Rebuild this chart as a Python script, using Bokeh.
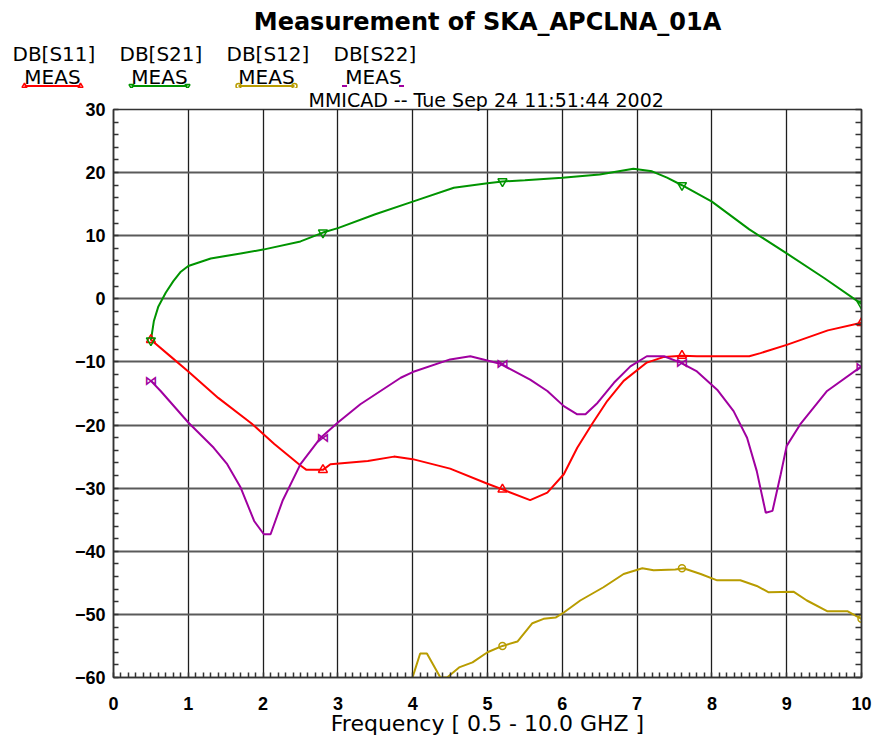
import numpy as np
from bokeh.plotting import figure
from bokeh.models import (Range1d, LinearAxis, Title, SingleIntervalTicker,
                          CustomJSTickFormatter)
from bokeh.layouts import column
from bokeh.embed import file_html
from bokeh.resources import INLINE
from bokeh.core.properties import value

# ---------------- data ----------------
title_text = "Measurement of SKA_APCLNA_01A"
date_text = "MMICAD -- Tue Sep 24 11:51:44 2002"
x_label = "Frequency [ 0.5 - 10.0 GHZ ]"
series_names = ["DB[S11]", "DB[S21]", "DB[S12]", "DB[S22]"]
series_sub = "MEAS"

freq_s11 = [0.5, 0.75, 1.0, 1.4, 1.85, 2.15, 2.5, 2.58, 2.8, 2.9, 3.4, 3.75, 4.0, 4.5, 5.0,
            5.2, 5.57, 5.8, 6.02, 6.2, 6.4, 6.6, 6.82, 7.13, 7.36, 7.6, 7.8, 8.5, 8.65, 9.0,
            9.55, 10.0]
s11 = [-6.5, -9.0, -11.5, -15.7, -19.8, -23.0, -26.4, -27.1, -27.1, -26.2, -25.7, -25.0, -25.4,
       -26.9, -29.3, -30.2, -31.9, -30.7, -27.8, -23.6, -19.8, -16.2, -13.0, -10.1, -9.2, -9.0,
       -9.1, -9.1, -8.6, -7.3, -5.0, -3.8]

freq_s21 = [0.5, 0.54, 0.6, 0.7, 0.8, 0.9, 1.0, 1.3, 1.7, 2.0, 2.5, 2.8, 3.0, 3.5, 4.0, 4.55,
            5.0, 5.2, 5.5, 6.0, 6.5, 6.95, 7.2, 7.4, 7.6, 8.0, 8.5, 9.0, 9.5, 10.0]
s21 = [-6.6, -3.5, -1.2, 1.0, 2.8, 4.3, 5.2, 6.4, 7.2, 7.8, 9.1, 10.5, 11.2, 13.4, 15.4, 17.6,
       18.3, 18.6, 18.8, 19.2, 19.7, 20.6, 20.2, 19.2, 18.0, 15.4, 11.0, 7.2, 3.3, -0.8]

freq_s12 = [3.95, 4.0, 4.1, 4.19, 4.37, 4.46, 4.62, 4.8, 5.0, 5.2, 5.4, 5.6, 5.75, 5.91, 6.02,
            6.24, 6.55, 6.82, 7.07, 7.22, 7.51, 7.62, 7.85, 8.07, 8.38, 8.6, 8.76, 9.09, 9.27,
            9.54, 9.81, 10.0]
s12 = [-61.0, -59.9, -56.2, -56.2, -60.0, -60.0, -58.4, -57.6, -56.0, -55.0, -54.3, -51.4, -50.7,
       -50.5, -49.7, -47.8, -45.7, -43.6, -42.7, -43.0, -42.9, -42.7, -43.6, -44.6, -44.6, -45.5,
       -46.5, -46.4, -47.8, -49.5, -49.5, -50.7]

freq_s22 = [0.5, 0.63, 1.0, 1.34, 1.52, 1.7, 1.88, 2.01, 2.1, 2.26, 2.5, 2.77, 3.0, 3.3, 3.84,
            4.0, 4.5, 4.77, 5.17, 5.57, 5.8, 6.02, 6.2, 6.31, 6.47, 6.69, 6.91, 7.13, 7.36, 7.58,
            7.8, 8.07, 8.29, 8.47, 8.6, 8.72, 8.81, 8.92, 9.0, 9.18, 9.54, 10.0]
s22 = [-13.0, -14.6, -19.6, -23.6, -26.2, -29.9, -35.2, -37.3, -37.3, -32.0, -26.2, -22.0, -19.6,
       -16.7, -12.5, -11.6, -9.6, -9.1, -10.3, -12.8, -14.6, -17.0, -18.3, -18.3, -16.5, -13.3,
       -10.7, -9.1, -9.1, -10.1, -11.5, -14.4, -17.8, -22.0, -27.3, -33.9, -33.6, -27.8, -23.3,
       -19.9, -14.6, -10.7]

# marker points on the curves
mk_freq = [0.5, 2.8, 5.2, 7.6, 10.0]
mk_s11 = [-6.5, -27.1, -30.2, -9.0, -3.8]
mk_s21 = [-6.6, 10.5, 18.6, 18.0, -0.8]
mk_freq_s12 = [5.2, 7.6, 10.0]
mk_s12 = [-55.0, -42.7, -50.7]
mk_s22 = [-13.0, -22.0, -10.3, -10.1, -10.7]

x_min, x_max = 0, 10
y_min, y_max = -60, 30

# ---------------- styles / layout ----------------
RED = "#ff0000"
GREEN = "#009400"
OLIVE = "#b89c00"
PURPLE = "#a000a0"
colors = [RED, GREEN, OLIVE, PURPLE]
FONT = "DejaVu Sans"
TICKFONT = "Liberation Sans"

W = 876
TOTAL_H = 740
HEAD_H = 88
FRAME_L, FRAME_R, FRAME_T, FRAME_B = 113, 861, 108, 677   # page pixels of the plot frame

# ---------------- header (title + legend) ----------------
head = figure(width=W, height=HEAD_H, x_range=Range1d(0, W), y_range=Range1d(HEAD_H, 0),
              output_backend="svg", toolbar_location=None, x_axis_location=None,
              y_axis_location=None, min_border=0, min_border_left=0, min_border_right=0,
              min_border_top=0, min_border_bottom=0, outline_line_color=None)
head.frame_align = False
head.grid.visible = False

head.text(x=[487], y=[21], text=[title_text], text_font=value(FONT), text_font_style="bold",
          text_font_size="24px", text_align="center", text_baseline="middle",
          text_color="black")

leg_markers = ["triangle", "inverted_triangle", "circle", "dash"]
LEG_Y = 85.5
for i, name in enumerate(series_names):
    x0 = 12 + 107 * i
    head.text(x=[x0], y=[53], text=[name], text_font=value(FONT), text_font_size="20px",
              text_align="left", text_baseline="middle", text_color="black")
    head.text(x=[x0 + 40], y=[76], text=[series_sub], text_font=value(FONT),
              text_font_size="20px", text_align="center", text_baseline="middle",
              text_color="black")
    if i < 3:
        head.line(x=[x0 + 12, x0 + 68], y=[LEG_Y, LEG_Y], line_color=colors[i], line_width=2)
        head.scatter(x=[x0 + 12, x0 + 68], y=[LEG_Y, LEG_Y], marker=leg_markers[i], size=5,
                     line_color=colors[i], fill_color=None, line_width=1.5)
    else:
        head.scatter(x=[x0 + 11, x0 + 68], y=[LEG_Y, LEG_Y], marker="dash", size=5,
                     line_color=colors[i], line_width=2)

# ---------------- main plot ----------------
p = figure(width=W, height=TOTAL_H - HEAD_H, x_range=Range1d(x_min, x_max),
           y_range=Range1d(y_min, y_max), output_backend="svg", toolbar_location=None,
           min_border_left=FRAME_L, min_border_right=W - FRAME_R,
           min_border_top=FRAME_T - HEAD_H, min_border_bottom=TOTAL_H - FRAME_B,
           outline_line_color="#333333", outline_line_width=1.5)
p.frame_align = False

# date stamp sitting on the frame's top edge
p.add_layout(Title(text=date_text, align="left", offset=308 - FRAME_L, standoff=-3,
                   text_font=FONT, text_font_size="19px", text_font_style="normal",
                   text_color="black", vertical_align="bottom"), "above")

p.xaxis.ticker = SingleIntervalTicker(interval=1, num_minor_ticks=10)
p.yaxis.ticker = SingleIntervalTicker(interval=10, num_minor_ticks=5)
for ax in (p.xaxis[0], p.yaxis[0]):
    ax.major_tick_in = 0
    ax.major_tick_out = 0
    ax.minor_tick_in = 5
    ax.minor_tick_out = 0
    ax.minor_tick_line_color = "#333333"
    ax.minor_tick_line_width = 1.5
    ax.axis_line_color = "#333333"
    ax.axis_line_width = 1.5
    ax.major_label_text_font = TICKFONT
    ax.major_label_text_font_style = "bold"
    ax.major_label_text_font_size = "18px"
    ax.major_label_text_color = "black"
p.xaxis.major_label_standoff = 19
p.yaxis.major_label_standoff = 8
p.yaxis.major_label_text_baseline = "hanging"

p.xaxis.axis_label = x_label
p.xaxis.axis_label_standoff = -2
p.xaxis.axis_label_text_font = FONT
p.xaxis.axis_label_text_font_size = "22px"
p.xaxis.axis_label_text_font_style = "normal"
p.xaxis.axis_label_text_color = "black"

right = LinearAxis(ticker=SingleIntervalTicker(interval=10, num_minor_ticks=5),
                   formatter=CustomJSTickFormatter(code="return ''"),
                   major_tick_in=0, major_tick_out=0, minor_tick_in=6, minor_tick_out=0,
                   minor_tick_line_color="#333333", minor_tick_line_width=1.5,
                   axis_line_color="#333333", axis_line_width=1.5,
                   major_label_standoff=0, major_label_text_font_size="1px")
p.add_layout(right, "right")

p.xgrid.grid_line_color = "#1e1e1e"
p.xgrid.grid_line_width = 1.3
p.ygrid.grid_line_color = "#5a5a5a"
p.ygrid.grid_line_width = 2

p.line(freq_s21, s21, line_color=GREEN, line_width=2)
p.line(freq_s11, s11, line_color=RED, line_width=2)
p.line(freq_s12, s12, line_color=OLIVE, line_width=2)
p.line(freq_s22, s22, line_color=PURPLE, line_width=2)

p.scatter(mk_freq, mk_s11, marker="triangle", size=9, line_color=RED, fill_color=None,
          line_width=1.5)
p.scatter(mk_freq, mk_s21, marker="inverted_triangle", size=9, line_color=GREEN,
          fill_color=None, line_width=1.5)
p.scatter(mk_freq_s12, mk_s12, marker="circle", size=7, line_color=OLIVE, fill_color=None,
          line_width=1.5)
p.text(mk_freq, mk_s22, text=["\u22c8"] * len(mk_freq), text_font=value(FONT),
       text_font_style="bold", text_font_size="13px", text_align="center",
       text_baseline="middle", text_color=PURPLE)

layout = column(head, p, spacing=0)
open("out.html", "w").write(file_html(layout, INLINE))
